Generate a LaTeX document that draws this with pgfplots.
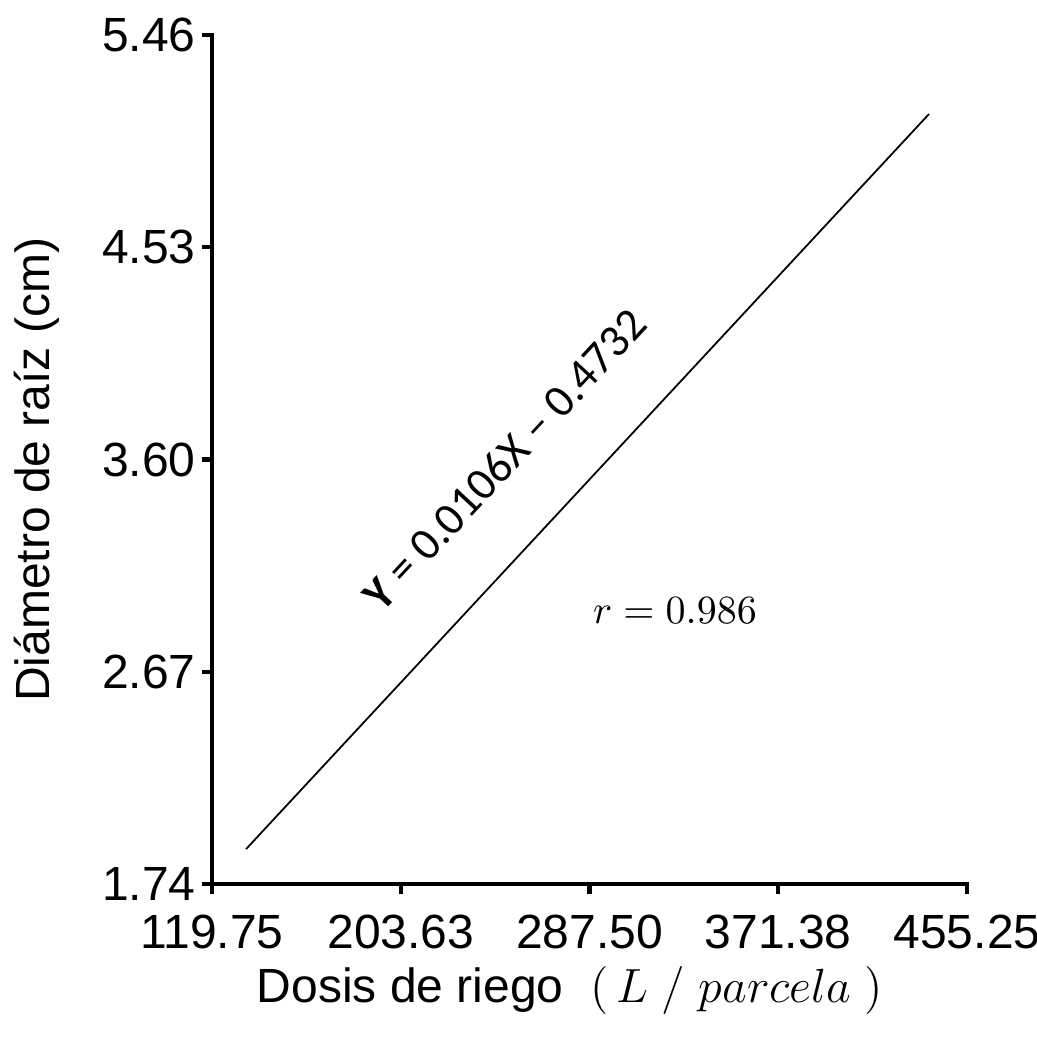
\documentclass[border=0pt]{standalone}
\usepackage{fontspec}
\setmainfont{Liberation Sans}
\newfontfamily\carlito{Carlito}
\usepackage{pgfplots}
\pgfplotsset{compat=1.18}
\begin{document}
\begin{tikzpicture}
\useasboundingbox (-53pt,-38.75pt) rectangle (206.25pt,221pt);
\begin{axis}[
  at={(0,0)}, anchor=origin,
  scale only axis,
  width=188.75pt, height=212.25pt,
  xmin=119.75, xmax=455.25,
  ymin=1.74, ymax=5.46,
  axis x line*=bottom, axis y line*=left,
  axis line style={-, line width=1.2pt, line cap=rect},
  xtick={119.75,203.63,287.50,371.38,455.25},
  xticklabels={119.75,203.63,287.50,371.38,455.25},
  ytick={1.74,2.67,3.60,4.53,5.46},
  yticklabels={1.74,2.67,3.60,4.53,5.46},
  tick align=outside,
  major tick length=2.6pt,
  tick style={line width=1.1pt, black},
  ticklabel style={font=\fontsize{12}{14}\selectfont},
  xticklabel style={yshift=-1.5pt},
  yticklabel style={xshift=2pt},
  xlabel={Dosis de riego\; $(\,L\;/\;parcela\;)$},
  xlabel style={at={(axis description cs:0.474,0)}, anchor=base, yshift=-29.5pt, font=\fontsize{12}{14}\selectfont},
  ylabel={Diámetro de raíz (cm)},
  ylabel style={at={(axis description cs:0,0.488)}, anchor=base, yshift=40.5pt, font=\fontsize{12}{14}\selectfont},
  clip=false,
]
\addplot[black, line width=0.45pt] coordinates {(134.9,1.893) (438.4,5.114)};
\node[rotate=47, font=\carlito\fontsize{11.5}{14}\selectfont] at (axis cs:249.8,3.60) {\textbf{Y} = 0.0106X – 0.4732};
\node[font=\fontsize{10}{12}\selectfont] at (axis cs:325.5,2.94) {$r = 0.986$};
\end{axis}
\end{tikzpicture}
\end{document}
